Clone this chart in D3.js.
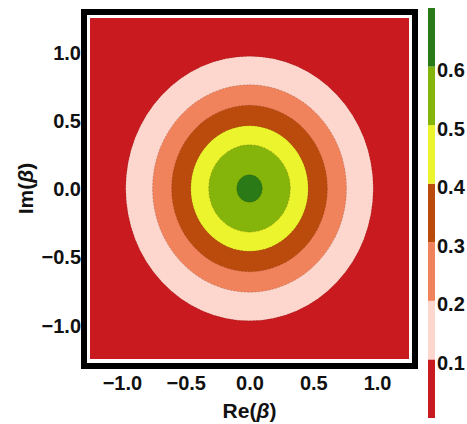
<!DOCTYPE html>
<html>
<head>
<meta charset="utf-8">
<script src="https://cdn.jsdelivr.net/npm/d3@7"></script>
<style>
  html, body { margin: 0; padding: 0; background: #fff; }
  svg { display: block; }
  text { font-family: "Liberation Sans", Arial, sans-serif; font-weight: bold; fill: #111; }
</style>
</head>
<body>
<svg id="chart" width="467" height="424"></svg>
<script>
// ---- data ----
const contourLevels = [0.1, 0.2, 0.3, 0.4, 0.5, 0.6];
// radius (in units of |β|) at which each contour level is crossed
const contourRadii = [0.97, 0.76, 0.61, 0.46, 0.32, 0.10];
// band colours: below 0.1, 0.1–0.2, ..., above 0.6
const bandColors = ["#c91a1f", "#fdd6ce", "#f0825c", "#bb4a0d", "#ecf42e", "#85b50b", "#2a7b17"];
const xTicks = [-1.0, -0.5, 0.0, 0.5, 1.0];
const yTicks = [-1.0, -0.5, 0.0, 0.5, 1.0];
const colorbarTicks = [0.1, 0.2, 0.3, 0.4, 0.5, 0.6];
const colorbarDomain = [0, 0.7];

// ---- layout ----
const svg = d3.select("#chart");
const plot = { left: 90, right: 409, top: 18, bottom: 359 };
const x = d3.scaleLinear().domain([-1.25, 1.25]).range([plot.left, plot.right]);
const y = d3.scaleLinear().domain([-1.25, 1.25]).range([plot.bottom, plot.top]);
const FS = 20;

// background band (< first level)
svg.append("rect")
  .attr("x", plot.left).attr("y", plot.top)
  .attr("width", plot.right - plot.left).attr("height", plot.bottom - plot.top)
  .attr("fill", bandColors[0]);

const clip = svg.append("defs").append("clipPath").attr("id", "plotclip");
clip.append("rect")
  .attr("x", plot.left).attr("y", plot.top)
  .attr("width", plot.right - plot.left).attr("height", plot.bottom - plot.top);

const bands = svg.append("g").attr("clip-path", "url(#plotclip)");
bands.selectAll("ellipse")
  .data(contourLevels.map((lv, i) => ({ level: lv, r: contourRadii[i], color: bandColors[i + 1] })))
  .join("ellipse")
  .attr("cx", x(0))
  .attr("cy", y(0))
  .attr("rx", d => x(d.r) - x(0))
  .attr("ry", d => y(0) - y(d.r))
  .attr("fill", d => d.color)
  .attr("stroke", "rgba(60,20,0,0.35)")
  .attr("stroke-width", 0.6)
  .attr("stroke-dasharray", "2,1.5");

// frame: thick black border with white gap
svg.append("rect")
  .attr("x", 84).attr("y", 12)
  .attr("width", 415 - 84).attr("height", 366 - 12)
  .attr("fill", "none").attr("stroke", "#000").attr("stroke-width", 6);
svg.append("rect")
  .attr("x", plot.left - 1.5).attr("y", plot.top - 1.5)
  .attr("width", plot.right - plot.left + 3).attr("height", plot.bottom - plot.top + 3)
  .attr("fill", "none").attr("stroke", "#fff").attr("stroke-width", 3);

// axes (labels only)
const fmt = d3.format(".1f");
const minusFmt = v => fmt(v).replace("-", "\u2212");

const xAxis = d3.axisBottom(x).tickValues(xTicks).tickSize(0).tickPadding(0).tickFormat(minusFmt);
const gx = svg.append("g").attr("transform", "translate(0,372)").call(xAxis);
gx.select(".domain").remove();
gx.selectAll("text").attr("font-size", FS).attr("font-weight", "bold")
  .attr("font-family", "Liberation Sans, Arial, sans-serif").attr("fill", "#111")
  .attr("dy", "0.71em").attr("y", 4);

const yAxis = d3.axisLeft(y).tickValues(yTicks).tickSize(0).tickPadding(0).tickFormat(minusFmt);
const gy = svg.append("g").attr("transform", "translate(81,0)").call(yAxis);
gy.select(".domain").remove();
gy.selectAll("text").attr("font-size", FS).attr("font-weight", "bold")
  .attr("font-family", "Liberation Sans, Arial, sans-serif").attr("fill", "#111")
  .attr("x", 0).attr("dy", "0.36em");

// axis titles
const xt = svg.append("text").attr("x", x(0)).attr("y", 418)
  .attr("text-anchor", "middle").attr("font-size", 21);
xt.append("tspan").text("Re(");
xt.append("tspan").attr("font-style", "italic").text("\u03B2");
xt.append("tspan").text(")");

const yt = svg.append("text").attr("transform", `translate(33,${y(0)}) rotate(-90)`)
  .attr("text-anchor", "middle").attr("font-size", 21);
yt.append("tspan").text("Im(");
yt.append("tspan").attr("font-style", "italic").text("\u03B2");
yt.append("tspan").text(")");

// colorbar
const cb = d3.scaleLinear().domain(colorbarDomain).range([418, 8]);
const cbEdges = [colorbarDomain[0], ...contourLevels, colorbarDomain[1]];
svg.append("g").selectAll("rect")
  .data(d3.pairs(cbEdges).map((p, i) => ({ lo: p[0], hi: p[1], color: bandColors[i] })))
  .join("rect")
  .attr("x", 428).attr("width", 7)
  .attr("y", d => cb(d.hi))
  .attr("height", d => cb(d.lo) - cb(d.hi))
  .attr("fill", d => d.color);

const cbAxis = d3.axisRight(cb).tickValues(colorbarTicks).tickSize(0).tickPadding(0).tickFormat(fmt);
const gc = svg.append("g").attr("transform", "translate(437,0)").call(cbAxis);
gc.select(".domain").remove();
gc.selectAll("text").attr("font-size", FS).attr("font-weight", "bold")
  .attr("font-family", "Liberation Sans, Arial, sans-serif").attr("fill", "#111")
  .attr("x", 0).attr("dy", "0.5em");
</script>
</body>
</html>
